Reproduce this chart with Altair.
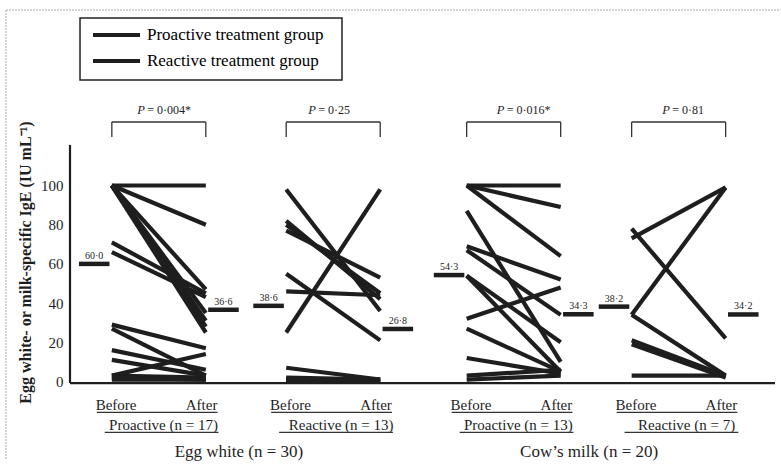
import altair as alt
import pandas as pd

# ---------------- data ----------------
EW_PRO_BEFORE = [100, 100, 100, 100, 100, 100, 100, 71, 66, 29, 27, 16, 11, 3, 3, 2, 1]
EW_PRO_AFTER = [100, 80, 47, 35, 31, 28, 25, 45, 43, 17, 3, 6, 3, 14, 2, 1, 1]
EW_REA_BEFORE = [98, 82, 80, 77, 55, 46, 25, 7, 2, 1, 1, 1, 0]
EW_REA_AFTER = [36, 42, 45, 53, 21, 44, 98, 1, 1, 0, 1, 0, 0]
CM_PRO_BEFORE = [100, 100, 100, 87, 69, 67, 54, 54, 32, 27, 12, 3, 1]
CM_PRO_AFTER = [100, 89, 64, 10, 52, 34, 20, 5, 48, 5, 4, 6, 3]
CM_REA_BEFORE = [73, 78, 34, 34, 21, 19, 3]
CM_REA_AFTER = [99, 22, 99, 3, 3, 2, 3]

MEAN_BEFORE = [60.0, 38.6, 54.3, 38.2]
MEAN_AFTER = [36.6, 26.8, 34.3, 34.2]
MEAN_BEFORE_LABELS = ["60·0", "38·6", "54·3", "38·2"]
MEAN_AFTER_LABELS = ["36·6", "26·8", "34·3", "34·2"]
P_VALUES = ["= 0·004*", "= 0·25", "= 0·016*", "= 0·81"]
GROUP_LABELS = ["Proactive (n = 17)", "Reactive (n = 13)", "Proactive (n = 13)", "Reactive (n = 7)"]
ALLERGEN_LABELS = ["Egg white (n = 30)", "Cow’s milk (n = 20)"]
LEGEND_GROUPS = ["Proactive treatment group", "Reactive treatment group"]
TIME_LABELS = ["Before", "After"]
Y_TICKS = [0, 20, 40, 60, 80, 100]
Y_TITLE = "Egg white- or milk-specific IgE (IU mL⁻¹)"

# ---------------- layout (positions on the x / y scales) ----------------
BEFORE_X = [0.89, 4.6, 8.44, 11.95]
GAP = 2.0
P_OFFSET = [0.54, 0.47, 0.64, 0.65]
X_DOMAIN = [0, 15]
Y_DOMAIN = [-40.05, 189.54]
INK = "#1e1e1e"
FONT = "Liberation Serif"
LEG_BOX = {"x": 0.213, "x2": 5.787, "y": 185.46, "y2": 153.83}
LEG_LINE_X = (0.489, 1.489)
LEG_TEXT_X = 1.638
LEG_ROWS_Y = [176.8, 163.5]

panels = [
    (EW_PRO_BEFORE, EW_PRO_AFTER, LEGEND_GROUPS[0]),
    (EW_REA_BEFORE, EW_REA_AFTER, LEGEND_GROUPS[1]),
    (CM_PRO_BEFORE, CM_PRO_AFTER, LEGEND_GROUPS[0]),
    (CM_REA_BEFORE, CM_REA_AFTER, LEGEND_GROUPS[1]),
]

rows = []
for p, (bef, aft, grp) in enumerate(panels):
    for i, (b, a) in enumerate(zip(bef, aft)):
        sid = f"{p}-{i}"
        rows.append({"id": sid, "group": grp, "x": BEFORE_X[p], "y": b})
        rows.append({"id": sid, "group": grp, "x": BEFORE_X[p] + GAP, "y": a})
lines_df = pd.DataFrame(rows)

means = []
for p in range(4):
    bx, ax_ = BEFORE_X[p], BEFORE_X[p] + GAP
    means.append({"x": bx - 0.7, "x2": bx - 0.05, "xc": bx - 0.375, "y": MEAN_BEFORE[p], "t": MEAN_BEFORE_LABELS[p]})
    means.append({"x": ax_ + 0.05, "x2": ax_ + 0.7, "xc": ax_ + 0.375, "y": MEAN_AFTER[p], "t": MEAN_AFTER_LABELS[p]})
means_df = pd.DataFrame(means)

BR_TOP, BR_BOT, P_Y = 132.4, 124.7, 138.5
br_h = pd.DataFrame([{"x": b, "x2": b + GAP, "y": BR_TOP} for b in BEFORE_X])
br_v = pd.DataFrame([{"x": b + d, "y": BR_BOT, "y2": BR_TOP} for b in BEFORE_X for d in (0, GAP)])
p_df = pd.DataFrame([{"x": BEFORE_X[p] + P_OFFSET[p], "y": P_Y, "t": P_VALUES[p]} for p in range(4)])

time_df = pd.DataFrame(
    [{"x": b + 0.09, "y": -12.0, "t": TIME_LABELS[0]} for b in BEFORE_X]
    + [{"x": b + GAP - 0.09, "y": -12.0, "t": TIME_LABELS[1]} for b in BEFORE_X]
)
ul1 = pd.DataFrame([{"x": b - 0.32, "x2": b + GAP + 0.25, "y": -15.8} for b in BEFORE_X])
grp_df = pd.DataFrame([{"x": BEFORE_X[p] + GAP / 2 + (0.1 if p % 2 == 0 else 0.17), "y": -22.2, "t": GROUP_LABELS[p]} for p in range(4)])
ul2 = pd.DataFrame([{"x": b - 0.15, "x2": b + GAP + 0.27, "y": -26.0} for b in BEFORE_X])
all_df = pd.DataFrame([
    {"x": (BEFORE_X[0] + BEFORE_X[1]) / 2 + GAP / 2 - 0.15, "y": -36.0, "t": ALLERGEN_LABELS[0]},
    {"x": (BEFORE_X[2] + BEFORE_X[3]) / 2 + GAP / 2 - 0.15, "y": -36.0, "t": ALLERGEN_LABELS[1]},
])

axes_df = pd.DataFrame([
    {"x": 0, "x2": 15, "y": -0.8, "y2": -0.8},
    {"x": 0, "x2": 0, "y": -0.8, "y2": 120.7},
])
frame_df = pd.DataFrame([
    {"x": -1.362, "x2": 15.2, "y": Y_DOMAIN[1], "y2": Y_DOMAIN[1]},
    {"x": -1.362, "x2": -1.362, "y": Y_DOMAIN[1], "y2": Y_DOMAIN[0]},
])

leg_box_df = pd.DataFrame([LEG_BOX])
leg_df = pd.DataFrame([
    {"x": LEG_LINE_X[0], "x2": LEG_LINE_X[1], "xt": LEG_TEXT_X, "y": LEG_ROWS_Y[k], "t": LEGEND_GROUPS[k]}
    for k in range(2)
])

XS = alt.Scale(domain=X_DOMAIN, nice=False, zero=False)
YS = alt.Scale(domain=Y_DOMAIN, nice=False, zero=False)
YAX = alt.Axis(
    values=Y_TICKS, domain=False, ticks=False, grid=False, labelPadding=7,
    labelFont=FONT, labelFontSize=15, labelColor=INK,
    title=Y_TITLE, titleFont=FONT, titleFontSize=16, titleFontWeight="bold", titleColor=INK,
    titleX=-45, titleY=252, titleAlign="center", titleBaseline="middle", titleAngle=270,
)


def X(f="x"):
    return alt.X(f"{f}:Q", scale=XS, axis=None)


def Y(f="y"):
    return alt.Y(f"{f}:Q", scale=YS, axis=YAX)


lines = alt.Chart(lines_df).mark_line(strokeWidth=4.2, strokeCap="butt").encode(
    x=X(), y=Y(), detail="id:N",
    color=alt.Color("group:N", scale=alt.Scale(domain=LEGEND_GROUPS, range=[INK, INK]), legend=None),
)

mean_bars = alt.Chart(means_df).mark_rule(strokeWidth=4.5, color=INK).encode(x=X(), x2="x2:Q", y=Y())
mean_text = alt.Chart(means_df).mark_text(font=FONT, fontSize=10, color=INK, baseline="bottom", dy=-3).encode(
    x=X("xc"), y=Y(), text="t:N")

brh = alt.Chart(br_h).mark_rule(strokeWidth=1.3, color="#333").encode(x=X(), x2="x2:Q", y=Y())
brv = alt.Chart(br_v).mark_rule(strokeWidth=1.3, color="#333").encode(x=X(), y=Y(), y2="y2:Q")
p_italic = alt.Chart(p_df).mark_text(font=FONT, fontSize=12.5, fontStyle="italic", color=INK, align="left", baseline="middle").encode(
    x=X(), y=Y(), text=alt.value("P"))
p_text = alt.Chart(p_df).mark_text(font=FONT, fontSize=12, color=INK, align="left", baseline="middle", dx=10).encode(
    x=X(), y=Y(), text="t:N")

time_text = alt.Chart(time_df).mark_text(font=FONT, fontSize=15, color=INK, baseline="middle").encode(x=X(), y=Y(), text="t:N")
u1 = alt.Chart(ul1).mark_rule(strokeWidth=1.2, color="#333").encode(x=X(), x2="x2:Q", y=Y())
grp_text = alt.Chart(grp_df).mark_text(font=FONT, fontSize=15, color=INK, baseline="middle").encode(x=X(), y=Y(), text="t:N")
u2 = alt.Chart(ul2).mark_rule(strokeWidth=1.2, color="#333").encode(x=X(), x2="x2:Q", y=Y())
all_text = alt.Chart(all_df).mark_text(font=FONT, fontSize=17, color=INK, baseline="middle").encode(x=X(), y=Y(), text="t:N")

axes = alt.Chart(axes_df).mark_rule(strokeWidth=2.2, color=INK).encode(x=X(), x2="x2:Q", y=Y(), y2="y2:Q")
frame = alt.Chart(frame_df).mark_rule(strokeWidth=1, color="#aaaaaa", strokeDash=[2, 1]).encode(x=X(), x2="x2:Q", y=Y(), y2="y2:Q")

leg_box = alt.Chart(leg_box_df).mark_rect(fill="white", stroke="#222", strokeWidth=1.5).encode(
    x=X(), x2="x2:Q", y=Y(), y2="y2:Q")
leg_lines = alt.Chart(leg_df).mark_rule(strokeWidth=4, color=INK).encode(x=X(), x2="x2:Q", y=Y())
leg_text = alt.Chart(leg_df).mark_text(font=FONT, fontSize=17, color="black", align="left", baseline="middle").encode(
    x=X("xt"), y=Y(), text="t:N")

chart = alt.layer(
    frame, axes, lines, mean_bars, mean_text, brh, brv, p_italic, p_text,
    time_text, u1, grp_text, u2, all_text, leg_box, leg_lines, leg_text,
).properties(
    width=705, height=450,
    autosize=alt.AutoSizeParams(type="none"),
    padding={"left": 70, "top": 10, "right": 6, "bottom": 4},
    background="white",
).configure_view(stroke=None)

chart.save("out.html", embed_options={"renderer": "svg", "actions": False})
